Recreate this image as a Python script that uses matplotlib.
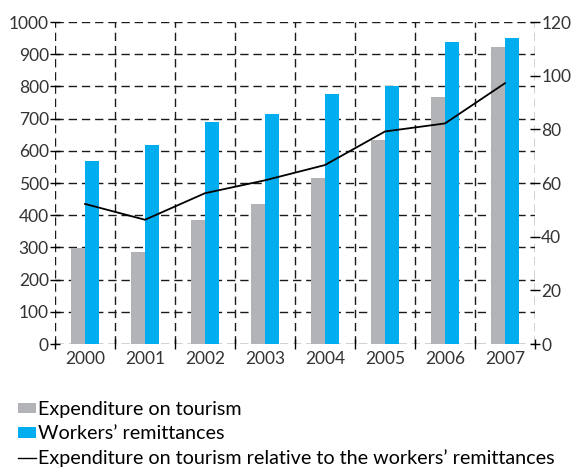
import numpy as np
import matplotlib.pyplot as plt
from matplotlib.patches import Patch
from matplotlib.lines import Line2D

# datos
anios = ["2000", "2001", "2002", "2003", "2004", "2005", "2006", "2007"]
gasto_turismo = [297, 287, 386, 436, 516, 634, 767, 922]
remesas = [568, 618, 689, 714, 776, 801, 938, 950]
relacion = [52.2, 46.3, 56.2, 61.0, 66.7, 79.2, 82.2, 97.2]

gris = "#B1B3B6"
azul = "#00AEEF"
texto = "#333333"

plt.rcParams["font.family"] = ["Lato", "DejaVu Sans"]
plt.rcParams["font.size"] = 12.5

fig = plt.figure(figsize=(5.77, 4.69), dpi=100)
ax = fig.add_axes([55 / 577, 1 - 344 / 469, 480 / 577, 322 / 469])
ax2 = ax.twinx()

x = np.arange(len(anios))
ancho = 0.235
ax.bar(x - ancho / 2, gasto_turismo, ancho, color=gris, zorder=2)
ax.bar(x + ancho / 2, remesas, ancho, color=azul, zorder=2)
ax2.plot(x, relacion, color="black", lw=1.3)

ax.set_xlim(-0.5, len(anios) - 0.5)
ax.set_ylim(0, 1000)
ax2.set_ylim(0, 120)

# ticks: mayores en los limites de categoria, menores con las etiquetas
ax.set_xticks(np.arange(-0.5, len(anios), 1.0))
ax.set_xticklabels([])
ax.set_xticks(x, minor=True)
ax.set_xticklabels(anios, minor=True)
ax.tick_params(axis="x", which="major", direction="inout", length=7, width=1, color="black")
ax.tick_params(axis="x", which="minor", length=0, pad=5, labelcolor=texto)

ax.set_yticks(np.arange(0, 1001, 100))
ax.tick_params(axis="y", direction="inout", length=7, width=1, color="black", pad=1, labelcolor=texto)
ax2.set_yticks(np.arange(0, 121, 20))
ax2.tick_params(axis="y", direction="inout", length=7, width=1, color="black", pad=1, labelcolor=texto)

ax.set_axisbelow(True)
ax.grid(True, which="major", color="#1a1a1a", linestyle=(0, (6, 3.5)), linewidth=1)
for a in (ax, ax2):
    for s in a.spines.values():
        s.set_visible(False)

handles = [
    Patch(facecolor=gris, edgecolor="none"),
    Patch(facecolor=azul, edgecolor="none"),
    Line2D([0], [0], color="black", lw=1),
]
labels = [
    "Expenditure on tourism",
    "Workers\u2019 remittances",
    "Expenditure on tourism relative to the workers\u2019 remittances",
]
fig.legend(handles, labels, loc="upper left", bbox_to_anchor=(0.031, 0.145),
           frameon=False, fontsize=14.2, handlelength=0.9, handleheight=0.47,
           handletextpad=0.1, labelspacing=0.36, borderpad=0, borderaxespad=0,
           labelcolor="black")

fig.savefig("out.png", dpi=100)
